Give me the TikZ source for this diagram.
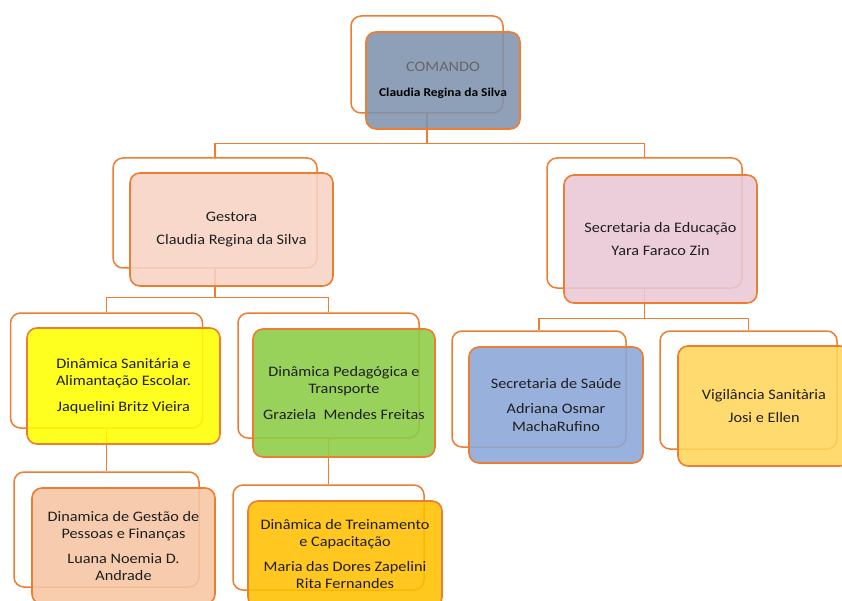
\documentclass[tikz,border=0pt]{standalone}
\usepackage{fontspec}
\setmainfont[FakeStretch=1.12]{Carlito}
\usetikzlibrary{calc,positioning}
\pgfdeclarelayer{background layer}
\pgfsetlayers{background layer,main}
\definecolor{borda}{HTML}{ED7D31}
\definecolor{cComando}{HTML}{7F93AE}
\definecolor{cGestora}{HTML}{F7D3C4}
\definecolor{cEducacao}{HTML}{EAC8D6}
\definecolor{cSanitaria}{HTML}{FFFF00}
\definecolor{cPedagogica}{HTML}{8CCC45}
\definecolor{cSaude}{HTML}{8AA6D8}
\definecolor{cVigilancia}{HTML}{FFD55A}
\definecolor{cGestao}{HTML}{F7C6A3}
\definecolor{cTreinamento}{HTML}{FFC000}

\begin{document}
\begin{tikzpicture}[x=1pt,y=-1pt,
	back/.style={draw=borda,line width=1.5pt,fill=white,rounded corners=10pt,inner sep=0pt},
	front/.style={draw=borda,line width=1.6pt,rounded corners=10pt,fill opacity=0.88,text opacity=1,inner sep=0pt,align=center,text=black!88,font=\fontsize{14.5}{17.3}\selectfont},
	link/.style={draw=borda,line width=1.4pt}]
\useasboundingbox (0,0) rectangle (842,601);
\clip (0,0) rectangle (842,601);
\node[back,minimum width=152pt,minimum height=97pt] (comandoB) at (427,64.5) {};
\node[front,fill=cComando,minimum width=154pt,minimum height=97pt] (comando) at (443,80.5)
	{{\color{black!60}COMANDO}\\[8pt]{\fontsize{12}{14}\selectfont\bfseries\color{black}Claudia Regina da Silva}};
	\node[back,minimum width=204pt,minimum height=110pt] (gestoraB) at (215,213) {};
	\node[front,fill=cGestora,minimum width=203pt,minimum height=113pt] (gestora) at (231.5,229.5)
		{Gestora\\[6pt]Claudia Regina da Silva};
	\node[back,minimum width=195pt,minimum height=130pt] (educacaoB) at (644.5,223) {};
	\node[front,fill=cEducacao,minimum width=193pt,minimum height=128pt] (educacao) at (660.5,239)
		{Secretaria da Educação\\[6pt]Yara Faraco Zin};
		\node[back,minimum width=192pt,minimum height=115pt] (sanitariaB) at (106.5,370.5) {};
		\node[front,fill=cSanitaria,minimum width=193pt,minimum height=116pt] (sanitaria) at (123.5,386)
			{Dinâmica Sanitária e\\Alimantação Escolar.\\[8pt]Jaquelini Britz Vieira};
		\node[back,minimum width=181pt,minimum height=125pt] (pedagogicaB) at (328.5,375.5) {};
		\node[front,fill=cPedagogica,minimum width=182pt,minimum height=128pt] (pedagogica) at (344,393)
			{Dinâmica Pedagógica e\\Transporte\\[8pt]Graziela\ \ Mendes Freitas};
		\node[back,minimum width=174pt,minimum height=116pt] (saudeB) at (539,389) {};
		\node[front,fill=cSaude,minimum width=174pt,minimum height=116pt] (saude) at (556,405)
			{Secretaria de Saúde\\[8pt]Adriana Osmar\\MachaRufino};
		\node[back,minimum width=177pt,minimum height=118pt] (vigilanciaB) at (748.5,390) {};
		\node[front,fill=cVigilancia,minimum width=172pt,minimum height=120pt] (vigilancia) at (764,406)
			{Vigilância Sanitària\\[6pt]Josi e Ellen};
			\node[back,minimum width=185pt,minimum height=115pt] (gestaoB) at (106.5,529.5) {};
			\node[front,fill=cGestao,minimum width=183pt,minimum height=116pt] (gestao) at (123.5,546)
				{Dinamica de Gestão de\\Pessoas e Finanças\\[8pt]Luana Noemia D.\\Andrade};
			\node[back,minimum width=191pt,minimum height=105pt] (treinamentoB) at (328.5,537.5) {};
			\node[front,fill=cTreinamento,minimum width=194pt,minimum height=106pt] (treinamento) at (345,554)
				{Dinâmica de Treinamento\\e Capacitação\\[8pt]Maria das Dores Zapelini\\Rita Fernandes};
\begin{pgfonlayer}{background layer}
\draw[link] (comandoB.south) -- ++(0,30) -| (gestoraB.north);
\draw[link] (comandoB.south) -- ++(0,30) -| (educacaoB.north);
\draw[link] (gestoraB.south) -- ++(0,29) -| (sanitariaB.north);
\draw[link] (gestoraB.south) -- ++(0,29) -| (pedagogicaB.north);
\draw[link] (educacaoB.south) -- ++(0,30) -| (saudeB.north);
\draw[link] (educacaoB.south) -- ++(0,30) -| (vigilanciaB.north);
\draw[link] (sanitariaB.south) -- (gestaoB.north);
\draw[link] (pedagogicaB.south) -- (treinamentoB.north);
\end{pgfonlayer}
\end{tikzpicture}
\end{document}
